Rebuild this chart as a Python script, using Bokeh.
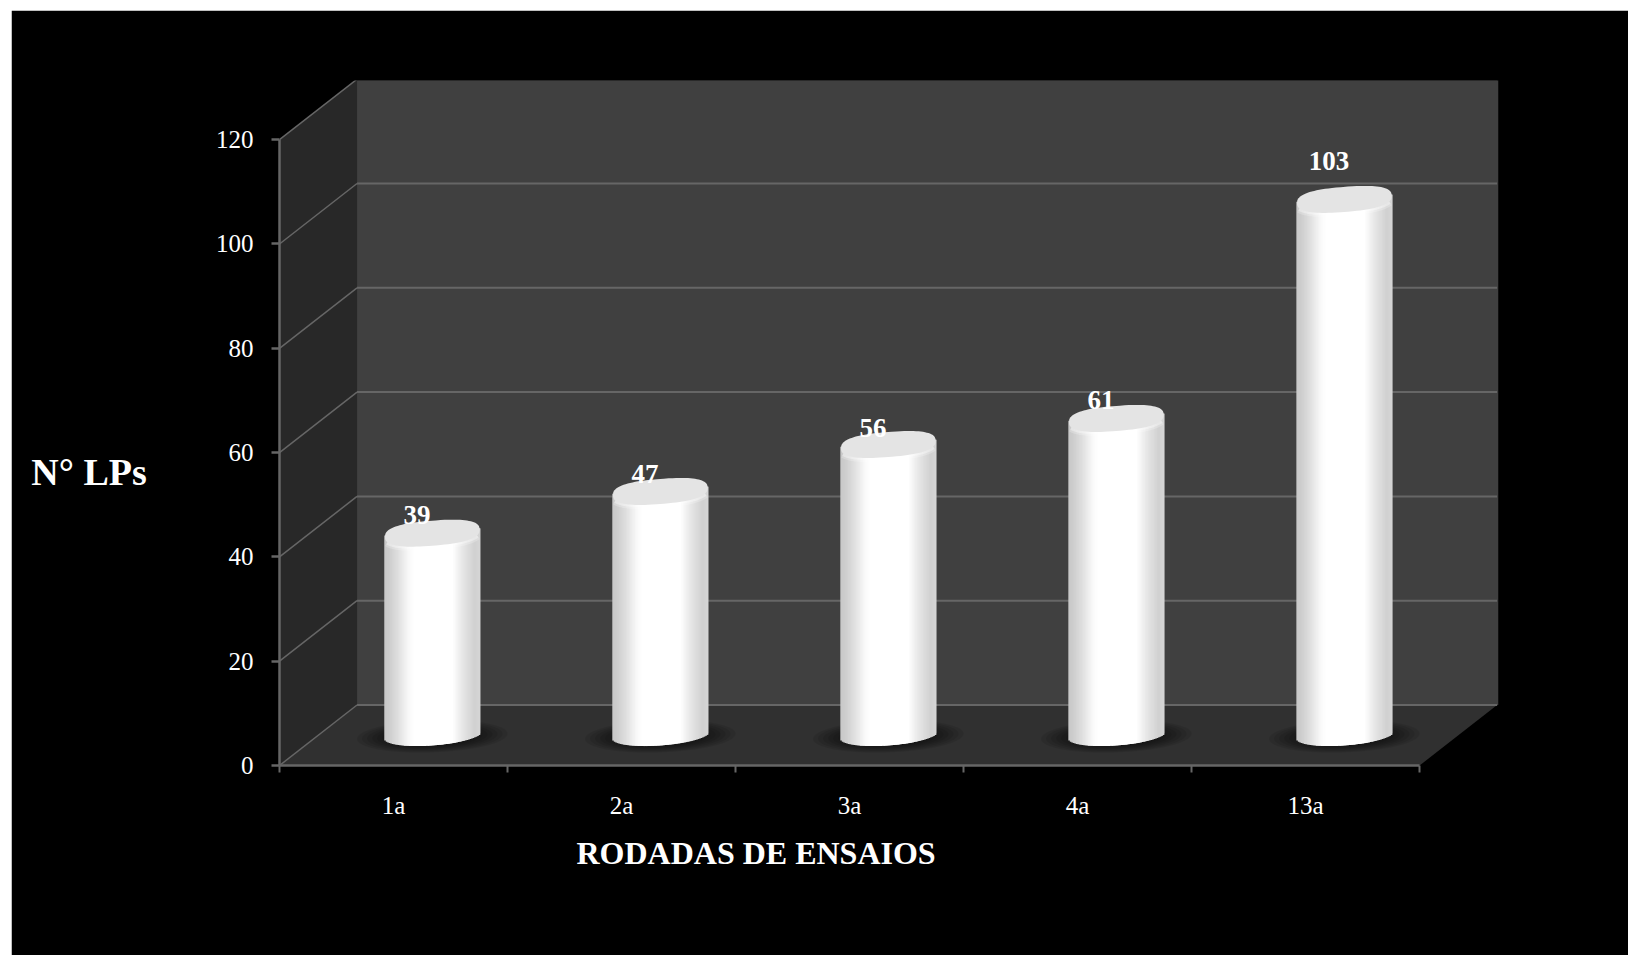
import numpy as np
from bokeh.plotting import figure
from bokeh.models import Range1d, FixedTicker, Label, ColumnDataSource
from bokeh.core.properties import value
from bokeh.embed import file_html
from bokeh.resources import INLINE

# ---- chart data ----
categories = ["1a", "2a", "3a", "4a", "13a"]
lps = [39, 47, 56, 61, 103]
y_ticks = [0, 20, 40, 60, 80, 100, 120]
x_title = "RODADAS DE ENSAIOS"
y_title = "N° LPs"
label_lift = [3.2, 3.0, 3.0, 3.3, 7.1]

# ---- styling ----
FONT = "Liberation Serif"
WALL, SIDE, FLOOR, GRID = "#404040", "#282828", "#303030", "#666666"
CAP = "#e4e4e4"
DEPTH_X, DEPTH_Y = 0.34, 11.6      # 3-D depth of the box in data units
YMAX = 120
HALF_W = 0.2105
RY, TILT = 1.95, 0.69
CAP_RY, CAP_TILT = 2.4, 0.7
STRIPS = 64
SHADE_U = [-1.0, -0.9, -0.72, -0.5, -0.38, 0.42, 0.62, 0.88, 1.0]
SHADE_G = [200, 205, 222, 248, 255, 255, 232, 208, 214]

n = len(categories)
X_END = n + DEPTH_X + 0.006
Y_END = YMAX + DEPTH_Y - 0.25
p = figure(width=1617, height=945, output_backend="svg", toolbar_location=None,
           x_range=Range1d(0, X_END), y_range=Range1d(0, Y_END),
           min_border_left=268, min_border_right=130, min_border_top=70, min_border_bottom=190,
           background_fill_color="#000000", border_fill_color="#000000",
           outline_line_color="#000000", outline_line_width=3)
p.margin = (10, 0, 0, 11)
p.grid.visible = False

# back wall, side wall, floor
p.quad(left=[DEPTH_X], right=[X_END], bottom=[DEPTH_Y], top=[YMAX + DEPTH_Y],
       fill_color=WALL, line_color=None)
p.patch([0, DEPTH_X, DEPTH_X, 0], [0, DEPTH_Y, YMAX + DEPTH_Y, YMAX], fill_color=SIDE, line_color=None)
p.patch([0, n, n + DEPTH_X, DEPTH_X], [0, 0, DEPTH_Y, DEPTH_Y], fill_color=FLOOR, line_color=None)

# gridlines on the wall and their slanted continuation on the side wall
p.segment(x0=[DEPTH_X] * len(y_ticks), x1=[n + DEPTH_X] * len(y_ticks),
          y0=[t + DEPTH_Y for t in y_ticks], y1=[t + DEPTH_Y for t in y_ticks],
          line_color=GRID, line_width=2)
p.segment(x0=[0] * len(y_ticks), x1=[DEPTH_X] * len(y_ticks),
          y0=y_ticks, y1=[t + DEPTH_Y for t in y_ticks], line_color=GRID, line_width=1.5)


def disc(cx, cy, rx, ry, tilt, power=2.0, num=90):
    t = np.linspace(0, 2 * np.pi, num, endpoint=False)
    c, s = np.cos(t), np.sin(t)
    ex = np.sign(c) * np.abs(c) ** (2 / power)
    ey = np.sign(s) * np.abs(s) ** (2 / power)
    return (cx + rx * ex).tolist(), (cy + ry * ey + tilt * ex).tolist()


centers = [i + 0.5 + DEPTH_X / 2 for i in range(n)]
base = DEPTH_Y / 2

# soft shadow under each cylinder
for k in range(12):
    f = 1 - k / 15
    for cx in centers:
        xs, ys = disc(cx, base - 0.2, 0.33 * f, 3.1 * f, 0.5 * f)
        p.patch(xs, ys, fill_color="#000000", fill_alpha=0.085, line_color=None)

# cylinder bodies, drawn as shaded strips
edges = np.linspace(-1, 1, STRIPS + 1)
mids = (edges[:-1] + edges[1:]) / 2
greys = np.interp(mids, SHADE_U, SHADE_G).round().astype(int)
colors = ["#%02x%02x%02x" % (g, g, g) for g in greys]
for cx, v in zip(centers, lps):
    front = RY * np.sqrt(np.clip(1 - mids ** 2, 0, 1))
    lefts = cx + HALF_W * edges[:-1]
    rights = np.minimum(cx + HALF_W * (edges[1:] + 2 / STRIPS), cx + HALF_W)
    src = ColumnDataSource(dict(left=lefts, right=rights,
                                bottom=base + TILT * mids - front,
                                top=base + v + TILT * mids,
                                color=colors))
    p.quad(left="left", right="right", bottom="bottom", top="top", fill_color="color",
           line_color=None, source=src)

# soft bright rim and top cap
for cx, v in zip(centers, lps):
    u = np.linspace(-0.94, 0.94, 60)
    rim = base + v - 0.25 + CAP_TILT * u - CAP_RY * (1 - np.abs(u) ** 2.6) ** (1 / 2.6)
    for w, a in [(8, 0.22), (4, 0.35)]:
        p.line((cx + HALF_W * u).tolist(), rim.tolist(), line_color="#ffffff", line_width=w, line_alpha=a)
    xs, ys = disc(cx, base + v - 0.25, HALF_W * 0.985, CAP_RY, CAP_TILT, power=2.6)
    p.patch(xs, ys, fill_color=CAP, line_color=None)

# value labels
p.text(x=[c - 0.067 for c in centers],
       y=[base + v + l for v, l in zip(lps, label_lift)],
       text=[str(v) for v in lps], text_color="#ffffff", text_font=value(FONT),
       text_font_style="bold", text_font_size="27px", text_align="center", text_baseline="middle")

# axes
ax = p.yaxis[0]
ax.ticker = FixedTicker(ticks=y_ticks)
ax.bounds = (0, YMAX)
ax.axis_line_color = GRID
ax.axis_line_width = 2.5
ax.major_tick_line_color = GRID
ax.major_tick_line_width = 2.5
ax.major_tick_out = 8
ax.major_tick_in = 0
ax.minor_tick_line_color = None
ax.major_label_standoff = 18
ax.major_label_text_color = "#ffffff"
ax.major_label_text_font = FONT
ax.major_label_text_font_size = "25px"

bx = p.xaxis[0]
major = [i + 0.5 for i in range(n)]
bx.ticker = FixedTicker(ticks=major, minor_ticks=list(range(n + 1)))
bx.major_label_overrides = {m: c for m, c in zip(major, categories)}
bx.bounds = (0, n)
bx.axis_line_color = GRID
bx.axis_line_width = 2.5
bx.major_tick_line_color = None
bx.major_tick_out = 0
bx.major_tick_in = 0
bx.minor_tick_line_color = GRID
bx.minor_tick_line_width = 2
bx.minor_tick_out = 7
bx.minor_tick_in = 0
bx.major_label_standoff = 19
bx.major_label_text_color = "#ffffff"
bx.major_label_text_font = FONT
bx.major_label_text_font_size = "25px"

# axis titles
p.add_layout(Label(x=2.09, y=-16.7, text=x_title, text_color="#ffffff", text_font=FONT,
                   text_font_style="bold", text_font_size="32px", text_align="center",
                   text_baseline="middle"), "below")
p.add_layout(Label(x=-0.835, y=56.2, text=y_title, text_color="#ffffff", text_font=FONT,
                   text_font_style="bold", text_font_size="38px", text_align="center",
                   text_baseline="middle"), "left")

open("out.html", "w").write(file_html(p, INLINE))
